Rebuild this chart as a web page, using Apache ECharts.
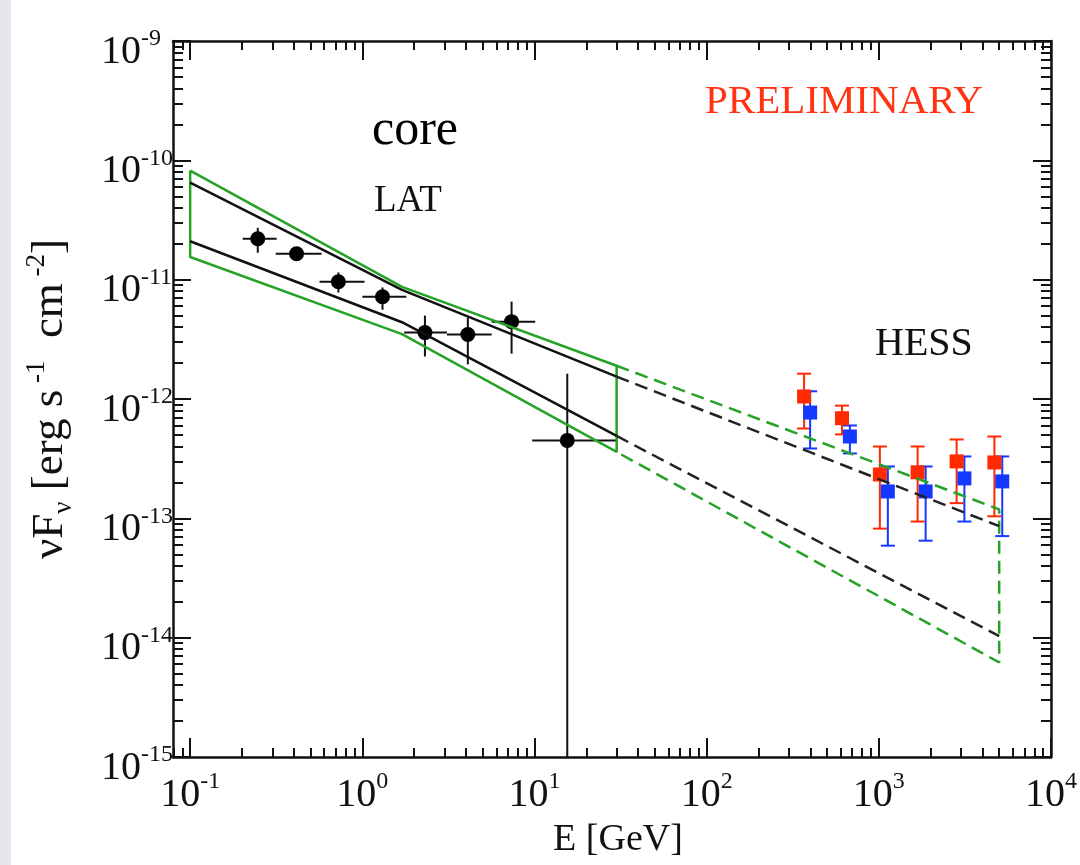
<!DOCTYPE html>
<html>
<head>
<meta charset="utf-8">
<script src="https://cdn.jsdelivr.net/npm/echarts@6/dist/echarts.min.js"></script>
<style>
  html, body { margin: 0; padding: 0; background: #ffffff; }
  #chart { width: 1080px; height: 865px; }
</style>
</head>
<body>
<div id="chart"></div>
<script>
// ---------------- data (E in GeV, nuFnu in erg s^-1 cm^-2) ----------------
// Fermi-LAT points
const latE    = [0.247, 0.415, 0.726, 1.31, 2.31, 4.1, 7.36, 15.5];
const latF    = [2.2e-11, 1.65e-11, 9.6e-12, 7.2e-12, 3.6e-12, 3.47e-12, 4.45e-12, 4.5e-13];
const latElo  = [0.202, 0.314, 0.564, 1.0, 1.75, 3.1, 5.64, 9.7];
const latEhi  = [0.318, 0.58, 1.03, 1.80, 3.1, 5.64, 10.1, 30.2];
const latFlo  = [1.68e-11, 1.45e-11, 7.8e-12, 5.6e-12, 2.27e-12, 1.95e-12, 2.4e-12, 1e-15];
const latFhi  = [2.72e-11, 1.85e-11, 1.15e-11, 8.6e-12, 5.0e-12, 4.8e-12, 6.55e-12, 1.63e-12];
// HESS points (red)
const hessRedE  = [368, 611, 1014, 1680, 2830, 4690];
const hessRedF  = [1.05e-12, 6.9e-13, 2.33e-13, 2.43e-13, 3.0e-13, 2.94e-13];
const hessRedLo = [5.66e-13, 5.05e-13, 8.2e-14, 9.4e-14, 1.34e-13, 1.04e-13];
const hessRedHi = [1.63e-12, 8.8e-13, 4.0e-13, 4.0e-13, 4.58e-13, 4.85e-13];
// HESS points (blue)
const hessBlueE  = [399, 679, 1128, 1870, 3140, 5210];
const hessBlueF  = [7.7e-13, 4.85e-13, 1.68e-13, 1.68e-13, 2.16e-13, 2.04e-13];
const hessBlueLo = [3.85e-13, 3.5e-13, 5.9e-14, 6.5e-14, 9.4e-14, 7.1e-14];
const hessBlueHi = [1.16e-12, 6.0e-13, 2.72e-13, 2.72e-13, 3.3e-13, 3.3e-13];
// LAT butterfly (solid) and its extrapolation (dashed)
const bowUpperE = [0.1, 1.7, 30];
const bowUpperF = [6.5e-11, 8.2e-12, 1.54e-12];
const bowLowerE = [0.1, 1.7, 30];
const bowLowerF = [2.1e-11, 4.4e-12, 4.9e-13];
const boxE = [0.1, 1.7, 30, 30, 1.7, 0.1, 0.1];
const boxF = [8.2e-11, 8.7e-12, 1.9e-12, 3.6e-13, 3.5e-12, 1.55e-11, 8.2e-11];
const extUpperE = [30, 5000];
const extUpperF = [1.54e-12, 8.6e-14];
const extLowerE = [30, 5000];
const extLowerF = [4.9e-13, 1.03e-14];
const extBoxE = [30, 5000, 5000, 30];
const extBoxF = [1.9e-12, 1.19e-13, 6.2e-15, 3.6e-13];
// axes: decade exponents and minor multipliers
const xExponents = [-1, 0, 1, 2, 3, 4];
const yExponents = [-15, -14, -13, -12, -11, -10, -9];
const minorMult = [2, 3, 4, 5, 6, 7, 8, 9];
const xRange = [0.0795, 1e4];
const yRange = [1e-15, 1e-9];

// ---------------- helpers ----------------
const L = Math.log10;
const xMin = L(xRange[0]), xMax = L(xRange[1]);
const yMin = L(yRange[0]), yMax = L(yRange[1]);
function minorTicks(lo, hi) {
  const out = [];
  for (let n = Math.floor(lo) - 1; n <= Math.ceil(hi); n++) {
    minorMult.forEach(k => { const v = n + L(k); if (v >= lo - 1e-9 && v <= hi + 1e-9) out.push(v); });
  }
  return out;
}
const xMinor = minorTicks(xMin, xMax);
const yMinor = minorTicks(yMin, yMax);
const pts = (E, F) => E.map((e, i) => [L(e), L(F[i])]);

const FONT = "'Liberation Serif', 'DejaVu Serif', serif";
const INK = '#111111';
const GREEN = '#26a226';
const RED = '#ff2a00';
const BLUE = '#1438ff';
const LW = 2.5;

const labelRich = {
  b: { fontSize: 40, lineHeight: 50, fontFamily: FONT, color: INK },
  s: { fontSize: 24, lineHeight: 18, verticalAlign: 'top', fontFamily: FONT, color: INK }
};
const expFmt = v => '{b|10}{s|' + Math.round(v) + '}';

function baseAxis(extra) {
  return Object.assign({
    type: 'value', splitLine: { show: false },
    axisLine: { show: true, onZero: false, lineStyle: { color: INK, width: 2.5 } },
    axisLabel: { show: false },
    axisTick: { show: true, inside: true, length: 18, lineStyle: { color: INK, width: 2 } }
  }, extra);
}

function xAxisDef(pos, major, withLabel) {
  const a = baseAxis({ position: pos, min: xMin, max: xMax, gridIndex: 0 });
  a.axisTick = { show: true, inside: true, length: major ? 19 : 9,
    customValues: major ? xExponents : xMinor, lineStyle: { color: INK, width: 2 } };
  if (!major) a.axisLine = { show: false, onZero: false };
  if (withLabel) {
    a.axisLabel = { show: true, customValues: xExponents, formatter: expFmt, margin: 13, rich: labelRich };
    a.name = 'E [GeV]';
    a.nameLocation = 'middle';
    a.nameGap = 56;
    a.nameTextStyle = { fontFamily: FONT, fontSize: 38, color: INK, lineHeight: 40, padding: [0, 0, 0, 12] };
  }
  return a;
}
function yAxisDef(pos, major, withLabel) {
  const a = baseAxis({ position: pos, min: yMin, max: yMax, gridIndex: 0 });
  a.axisTick = { show: true, inside: true, length: major ? 18 : 10,
    customValues: major ? yExponents : yMinor, lineStyle: { color: INK, width: 2 } };
  if (!major) a.axisLine = { show: false, onZero: false };
  if (withLabel) {
    a.axisLabel = { show: true, customValues: yExponents, formatter: expFmt, margin: 72,
      align: 'left', padding: [22, 0, 0, 0], rich: labelRich };
    a.name = '{b|νF}{sb|ν}{b| [erg s}{sp| -1}{b|  cm}{sp| -2}{b|]}';
    a.nameLocation = 'middle';
    a.nameRotate = 90;
    a.nameGap = 96;
    a.nameTextStyle = { rich: {
      b: { fontFamily: FONT, fontSize: 45, color: INK, lineHeight: 54 },
      sb: { fontFamily: FONT, fontSize: 27, color: INK, lineHeight: 24, verticalAlign: 'bottom' },
      sp: { fontFamily: FONT, fontSize: 27, color: INK, lineHeight: 24, verticalAlign: 'top' }
    } };
  }
  return a;
}

function errRender(color, capHalf) {
  return function (params, api) {
    const x = api.value(0), xl = api.value(2), xh = api.value(3);
    const yl = api.value(4), yh = api.value(5), y = api.value(1);
    const ch = [];
    const st = { stroke: color, lineWidth: 2 };
    if (yl !== yh) {
      const a = api.coord([x, yl]), b = api.coord([x, yh]);
      ch.push({ type: 'line', shape: { x1: a[0], y1: a[1], x2: b[0], y2: b[1] }, style: st });
      if (capHalf) {
        ch.push({ type: 'line', shape: { x1: a[0] - capHalf, y1: a[1], x2: a[0] + capHalf, y2: a[1] }, style: st });
        ch.push({ type: 'line', shape: { x1: b[0] - capHalf, y1: b[1], x2: b[0] + capHalf, y2: b[1] }, style: st });
      }
    }
    if (xl !== xh) {
      const a = api.coord([xl, y]), b = api.coord([xh, y]);
      ch.push({ type: 'line', shape: { x1: a[0], y1: a[1], x2: b[0], y2: b[1] }, style: st });
    }
    return { type: 'group', children: ch };
  };
}
const errData = (E, F, Elo, Ehi, Flo, Fhi) =>
  E.map((e, i) => [L(e), L(F[i]), L(Elo ? Elo[i] : e), L(Ehi ? Ehi[i] : e), L(Flo[i]), L(Fhi[i])]);

function lineSeries(E, F, color, dashed) {
  return { type: 'line', xAxisIndex: 0, yAxisIndex: 0, data: pts(E, F), showSymbol: false, symbol: 'none',
    silent: true, clip: false,
    lineStyle: { color: color, width: LW, type: dashed ? [13, 7] : 'solid' } };
}

const chart = echarts.init(document.getElementById('chart'), null, { renderer: 'canvas', width: 1080, height: 865 });
chart.setOption({
  animation: false,
  backgroundColor: '#ffffff',
  grid: { left: 173, top: 41, width: 882, height: 716, containLabel: false },
  xAxis: [
    xAxisDef('bottom', true, true),
    xAxisDef('bottom', false, false),
    xAxisDef('top', true, false),
    xAxisDef('top', false, false)
  ],
  yAxis: [
    yAxisDef('left', true, true),
    yAxisDef('left', false, false),
    yAxisDef('right', true, false),
    yAxisDef('right', false, false)
  ],
  graphic: [
    { type: 'rect', left: 0, top: 0, shape: { width: 11, height: 865 }, style: { fill: '#e8e6ec' }, z: -10 },
    { type: 'text', x: 372, y: 131, style: { text: 'core', font: '50px ' + FONT, fill: '#000', verticalAlign: 'middle' } },
    { type: 'text', x: 374, y: 201, style: { text: 'LAT', font: '37px ' + FONT, fill: '#111', verticalAlign: 'middle' } },
    { type: 'text', x: 705, y: 102, style: { text: 'PRELIMINARY', font: '41px ' + FONT, fill: '#ff3312', verticalAlign: 'middle' } },
    { type: 'text', x: 875, y: 344, style: { text: 'HESS', font: '40px ' + FONT, fill: '#111', verticalAlign: 'middle' } }
  ],
  series: [
    lineSeries(boxE, boxF, GREEN, false),
    lineSeries(bowUpperE, bowUpperF, INK, false),
    lineSeries(bowLowerE, bowLowerF, INK, false),
    lineSeries(extBoxE, extBoxF, GREEN, true),
    lineSeries(extUpperE, extUpperF, '#222', true),
    lineSeries(extLowerE, extLowerF, '#222', true),
    { type: 'custom', xAxisIndex: 0, yAxisIndex: 0, renderItem: errRender(INK, 0),
      data: errData(latE, latF, latElo, latEhi, latFlo, latFhi), silent: true },
    { type: 'scatter', xAxisIndex: 0, yAxisIndex: 0, symbol: 'circle', symbolSize: 15,
      itemStyle: { color: '#000', opacity: 1 }, data: pts(latE, latF), silent: true },
    { type: 'custom', xAxisIndex: 0, yAxisIndex: 0, renderItem: errRender(RED, 7),
      data: errData(hessRedE, hessRedF, null, null, hessRedLo, hessRedHi), silent: true },
    { type: 'scatter', xAxisIndex: 0, yAxisIndex: 0, symbol: 'rect', symbolSize: 14,
      itemStyle: { color: RED, opacity: 1 }, data: pts(hessRedE, hessRedF), silent: true },
    { type: 'custom', xAxisIndex: 0, yAxisIndex: 0, renderItem: errRender(BLUE, 7),
      data: errData(hessBlueE, hessBlueF, null, null, hessBlueLo, hessBlueHi), silent: true },
    { type: 'scatter', xAxisIndex: 0, yAxisIndex: 0, symbol: 'rect', symbolSize: 14,
      itemStyle: { color: BLUE, opacity: 1 }, data: pts(hessBlueE, hessBlueF), silent: true }
  ]
});
</script>
</body>
</html>
